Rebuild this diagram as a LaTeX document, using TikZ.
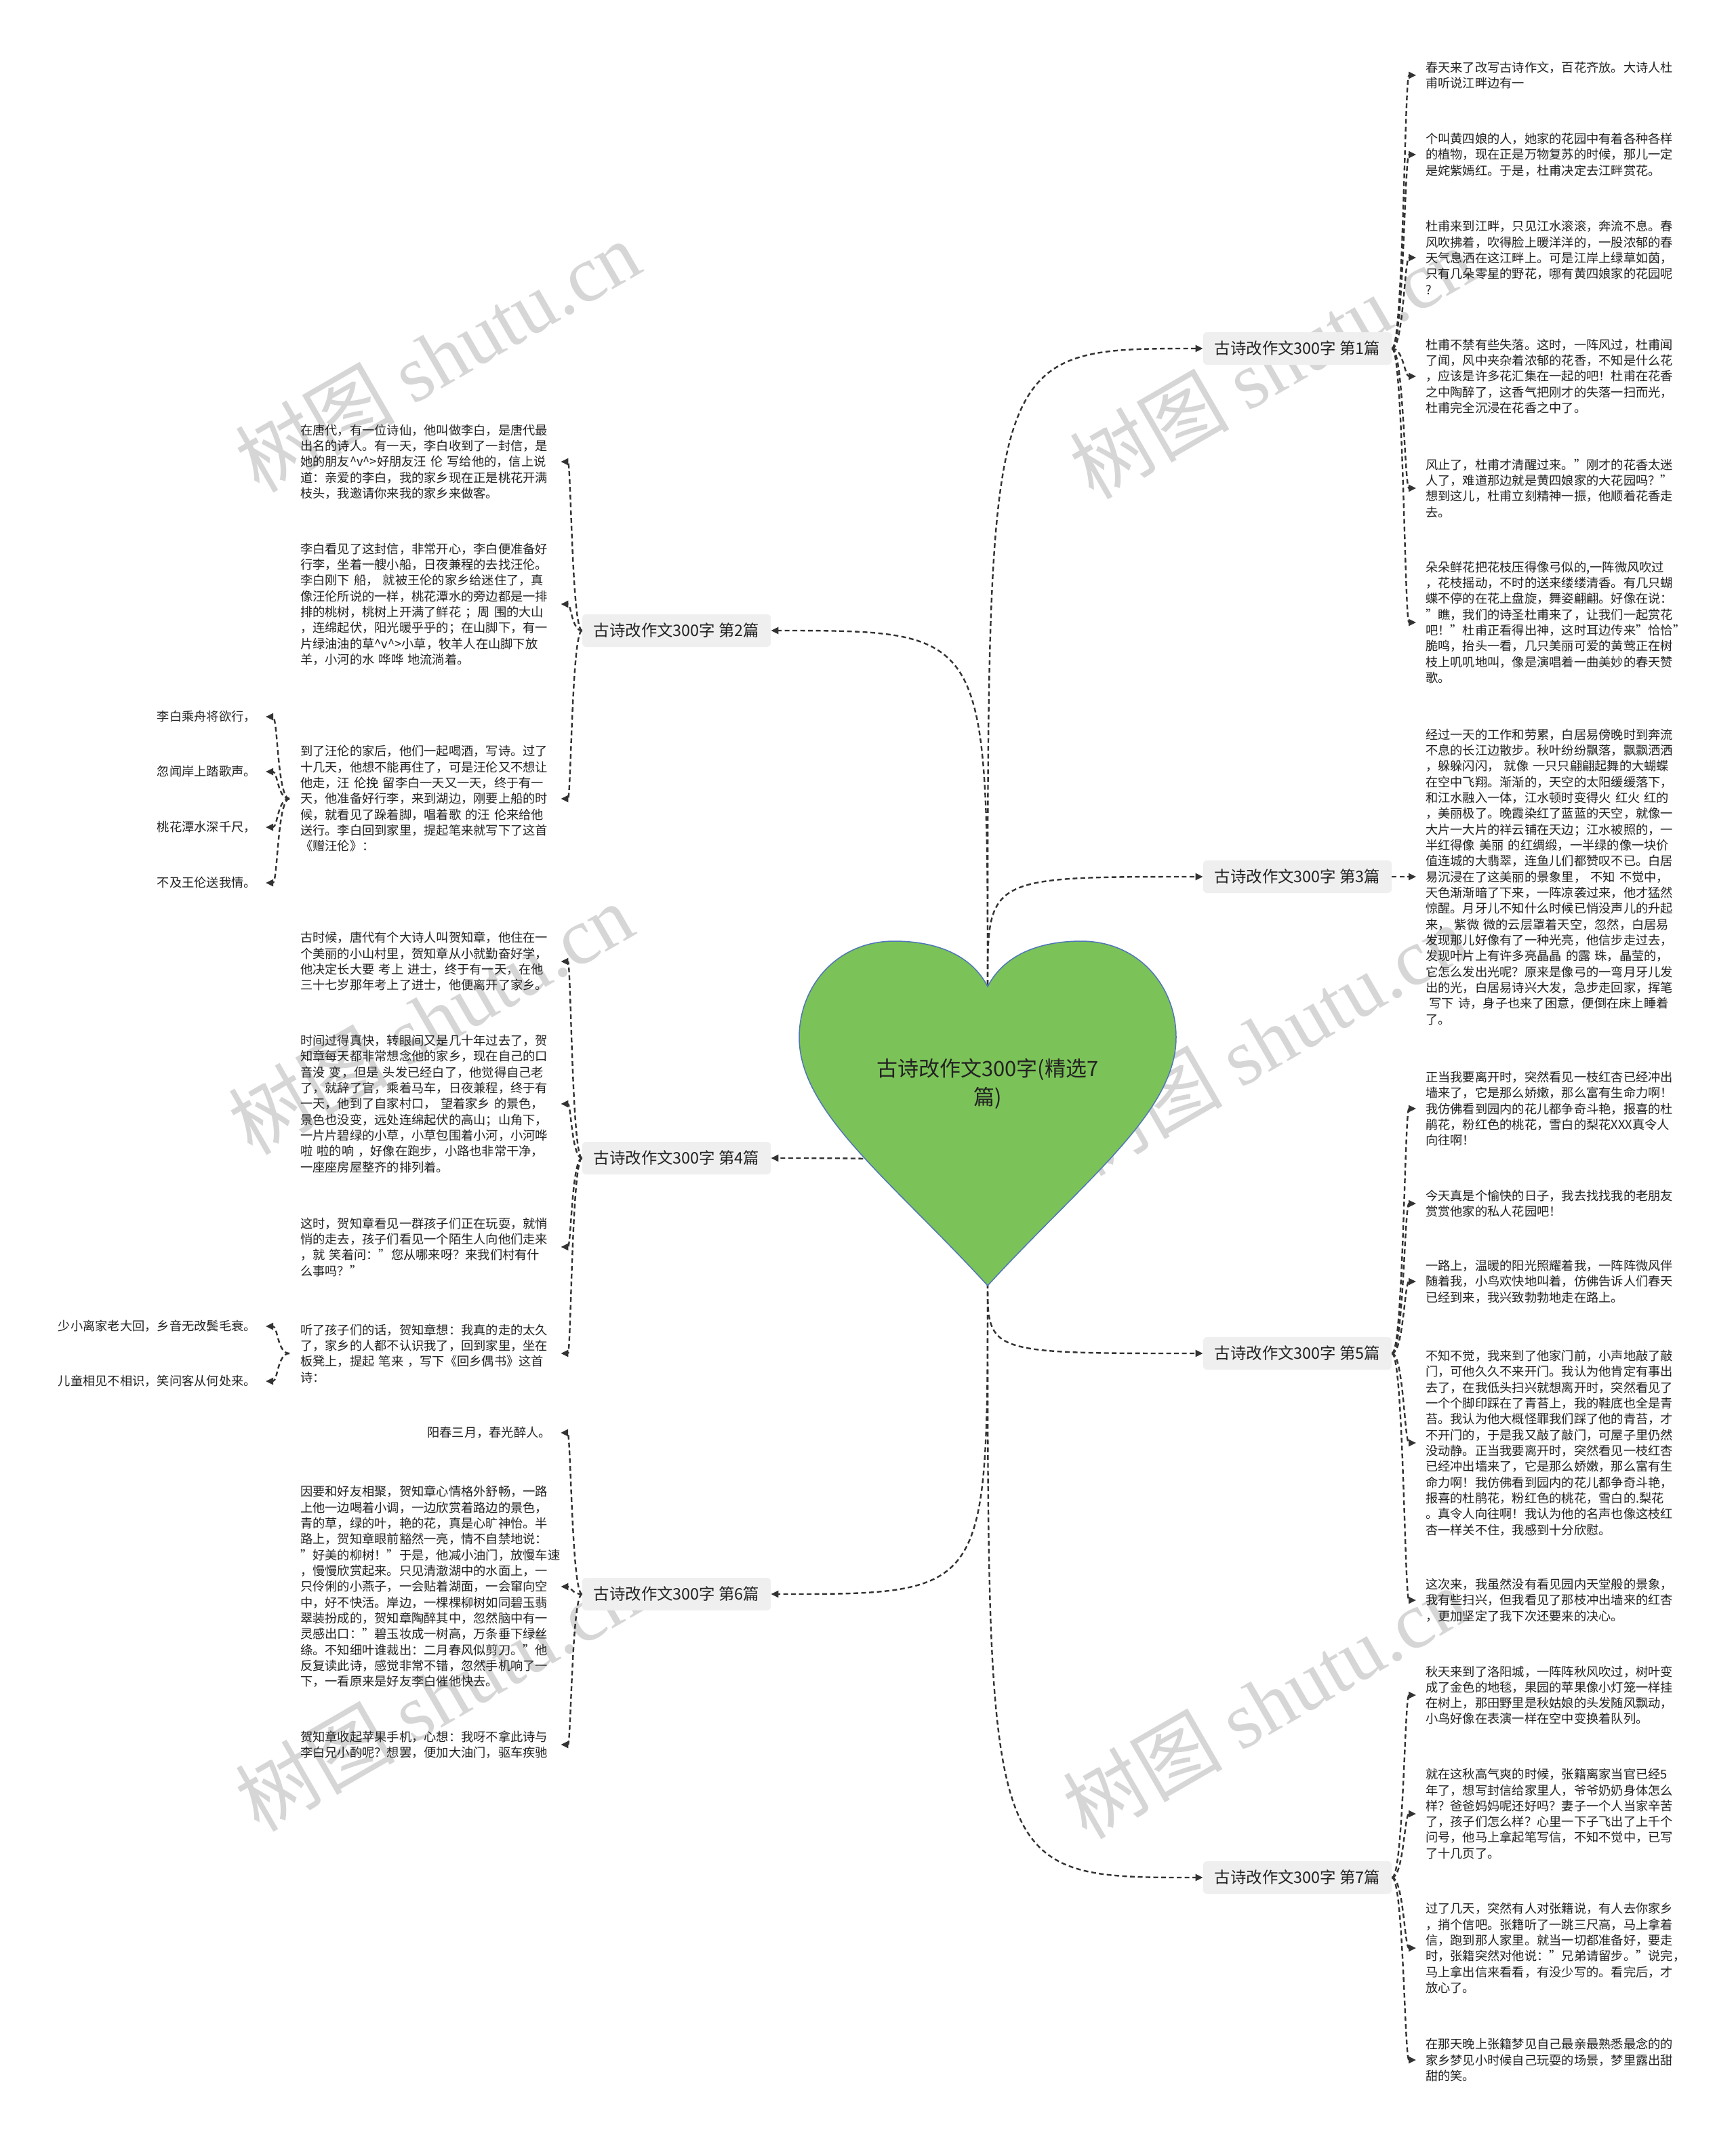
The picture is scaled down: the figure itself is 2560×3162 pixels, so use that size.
\documentclass[tikz,border=0pt]{standalone}
\usepackage{fontspec}
\setmainfont{Noto Sans CJK SC}
\newfontfamily\wmlatin{Liberation Serif}
\usetikzlibrary{arrows.meta}
\definecolor{lineclr}{HTML}{333333}
\definecolor{txtclr}{HTML}{222222}
\definecolor{labfill}{HTML}{EFEFEF}
\definecolor{heartfill}{HTML}{7BC258}
\definecolor{heartdraw}{HTML}{4F76B8}
\definecolor{wmclr}{HTML}{D6D6D6}
\newcommand{\ca}{\textasciicircum}
\begin{document}
\begin{tikzpicture}[x=1pt,y=-1pt,
 conn/.style={draw=lineclr, line width=2.4pt, dash pattern=on 7pt off 4.5pt, -{Triangle[length=11pt,width=10pt]}},
 branch/.style={fill=labfill, rounded corners=6pt, inner xsep=17pt, minimum height=48pt, text=txtclr, font=\fontsize{23.4}{28}\selectfont},
 leafR/.style={anchor=west, inner xsep=14pt, inner ysep=2pt, text width=368pt, align=left, text=txtclr, font=\fontsize{18.25}{23.33}\selectfont},
 leafL/.style={anchor=west, inner xsep=16pt, inner ysep=2pt, text width=368pt, align=left, text=txtclr, font=\fontsize{18.25}{23.33}\selectfont},
 poem/.style={anchor=east, inner xsep=14pt, inner ysep=2pt, text=txtclr, font=\fontsize{18.25}{23.33}\selectfont},
 wm/.style={rotate=30, text=wmclr, font=\fontsize{118}{120}\selectfont},
]
\useasboundingbox (0,0) rectangle (2560,3162);
\fill[white] (0,0) rectangle (2560,3162);

% watermarks
\node[wm] (wm1) at (645,525) {树图 {\wmlatin shutu.cn}};
\node[wm] (wm2) at (635,1502) {树图 {\wmlatin shutu.cn}};
\node[wm] (wm3) at (645,2500) {树图 {\wmlatin shutu.cn}};
\node[wm] (wm4) at (1876,535) {树图 {\wmlatin shutu.cn}};
\node[wm] (wm5) at (1866,1533) {树图 {\wmlatin shutu.cn}};
\node[wm] (wm6) at (1866,2511) {树图 {\wmlatin shutu.cn}};

% heart anchor points
\coordinate (htop) at (1457,1452);
\coordinate (hbot) at (1457,1893);

% branch labels
\node[branch] (b1) at (1914,514) {古诗改作文300字 第1篇};
\node[branch] (b2) at (998,930) {古诗改作文300字 第2篇};
\node[branch] (b3) at (1914,1293) {古诗改作文300字 第3篇};
\node[branch] (b4) at (998,1708) {古诗改作文300字 第4篇};
\node[branch] (b5) at (1914,1996) {古诗改作文300字 第5篇};
\node[branch] (b6) at (998,2351) {古诗改作文300字 第6篇};
\node[branch] (b7) at (1914,2769) {古诗改作文300字 第7篇};

% heart to branches
\draw[conn] (htop) .. controls (htop |- b1.west) .. (b1.west);
\draw[conn] (htop) .. controls (htop |- b2.east) .. (b2.east);
\draw[conn] (htop) .. controls (htop |- b3.west) .. (b3.west);
\draw[conn] (hbot) .. controls (hbot |- b4.east) .. (b4.east);
\draw[conn] (hbot) .. controls (hbot |- b5.west) .. (b5.west);
\draw[conn] (hbot) .. controls (hbot |- b6.east) .. (b6.east);
\draw[conn] (hbot) .. controls (hbot |- b7.west) .. (b7.west);

% heart
\filldraw[fill=heartfill, draw=heartdraw, line width=1.5pt]
 (1457,1455) .. controls (1480,1410) and (1530,1388) .. (1595,1388)
 .. controls (1680,1388) and (1735,1455) .. (1735,1530)
 .. controls (1735,1640) and (1600,1740) .. (1457,1896)
 .. controls (1314,1740) and (1179,1640) .. (1179,1530)
 .. controls (1179,1455) and (1234,1388) .. (1319,1388)
 .. controls (1384,1388) and (1434,1410) .. (1457,1455) -- cycle;
\node[font=\fontsize{31}{42}\selectfont, text=txtclr, align=center] (title) at (1457,1598) {古诗改作文300字(精选7\\篇)};

% right leaves, branch 1
\node[leafR] (r1a) at (2089,111) {春天来了改写古诗作文，百花齐放。大诗人杜\\甫听说江畔边有一};
\node[leafR] (r1b) at (2089,228) {个叫黄四娘的人，她家的花园中有着各种各样\\的植物，现在正是万物复苏的时候，那儿一定\\是姹紫嫣红。于是，杜甫决定去江畔赏花。};
\node[leafR] (r1c) at (2089,380) {杜甫来到江畔，只见江水滚滚，奔流不息。春\\风吹拂着，吹得脸上暖洋洋的，一股浓郁的春\\天气息洒在这江畔上。可是江岸上绿草如茵，\\只有几朵零星的野花，哪有黄四娘家的花园呢\\?};
\node[leafR] (r1d) at (2089,555) {杜甫不禁有些失落。这时，一阵风过，杜甫闻\\了闻，风中夹杂着浓郁的花香，不知是什么花\\，应该是许多花汇集在一起的吧！杜甫在花香\\之中陶醉了，这香气把刚才的失落一扫而光，\\杜甫完全沉浸在花香之中了。};
\node[leafR] (r1e) at (2089,720) {风止了，杜甫才清醒过来。"刚才的花香太迷\\人了，难道那边就是黄四娘家的大花园吗？"\\想到这儿，杜甫立刻精神一振，他顺着花香走\\去。};
\node[leafR] (r1f) at (2089,918) {朵朵鲜花把花枝压得像弓似的,一阵微风吹过\\，花枝摇动，不时的送来缕缕清香。有几只蝴\\蝶不停的在花上盘旋，舞姿翩翩。好像在说：\\"瞧，我们的诗圣杜甫来了，让我们一起赏花\\吧！"杜甫正看得出神，这时耳边传来"恰恰"\\脆鸣，抬头一看，几只美丽可爱的黄莺正在树\\枝上叽叽地叫，像是演唱着一曲美妙的春天赞\\歌。};

% branch 3
\node[leafR] (r3) at (2089,1293) {经过一天的工作和劳累，白居易傍晚时到奔流\\不息的长江边散步。秋叶纷纷飘落，飘飘洒洒\\，躲躲闪闪，~就像~一只只翩翩起舞的大蝴蝶\\在空中飞翔。渐渐的，天空的太阳缓缓落下，\\和江水融入一体，江水顿时变得火~红火~红的\\，美丽极了。晚霞染红了蓝蓝的天空，就像一\\大片一大片的祥云铺在天边；江水被照的，一\\半红得像~美丽~的红绸缎，一半绿的像一块价\\值连城的大翡翠，连鱼儿们都赞叹不已。白居\\易沉浸在了这美丽的景象里，~不知~不觉中，\\天色渐渐暗了下来，一阵凉袭过来，他才猛然\\惊醒。月牙儿不知什么时候已悄没声儿的升起\\来，~紫微~微的云层罩着天空，忽然，白居易\\发现那儿好像有了一种光亮，他信步走过去，\\发现叶片上有许多亮晶晶~的露~珠，晶莹的，\\它怎么发出光呢？原来是像弓的一弯月牙儿发\\出的光，白居易诗兴大发，急步走回家，挥笔\\\hspace*{0.3em}写下~诗，身子也来了困意，便倒在床上睡着\\了。};

% branch 5
\node[leafR] (r5a) at (2089,1635) {正当我要离开时，突然看见一枝红杏已经冲出\\墙来了，它是那么娇嫩，那么富有生命力啊！\\我仿佛看到园内的花儿都争奇斗艳，报喜的杜\\鹃花，粉红色的桃花，雪白的梨花XXX真令人\\向往啊！};
\node[leafR] (r5b) at (2089,1775) {今天真是个愉快的日子，我去找找我的老朋友\\赏赏他家的私人花园吧！};
\node[leafR] (r5c) at (2089,1890) {一路上，温暖的阳光照耀着我，一阵阵微风伴\\随着我，小鸟欢快地叫着，仿佛告诉人们春天\\已经到来，我兴致勃勃地走在路上。};
\node[leafR] (r5d) at (2089,2128) {不知不觉，我来到了他家门前，小声地敲了敲\\门，可他久久不来开门。我认为他肯定有事出\\去了，在我低头扫兴就想离开时，突然看见了\\一个个脚印踩在了青苔上，我的鞋底也全是青\\苔。我认为他大概怪罪我们踩了他的青苔，才\\不开门的，于是我又敲了敲门，可屋子里仍然\\没动静。正当我要离开时，突然看见一枝红杏\\已经冲出墙来了，它是那么娇嫩，那么富有生\\命力啊！我仿佛看到园内的花儿都争奇斗艳，\\报喜的杜鹃花，粉红色的桃花，雪白的.梨花\\。真令人向往啊！我认为他的名声也像这枝红\\杏一样关不住，我感到十分欣慰。};
\node[leafR] (r5e) at (2089,2360) {这次来，我虽然没有看见园内天堂般的景象，\\我有些扫兴，但我看见了那枝冲出墙来的红杏\\，更加坚定了我下次还要来的决心。};

% branch 7
\node[leafR] (r7a) at (2089,2500) {秋天来到了洛阳城，一阵阵秋风吹过，树叶变\\成了金色的地毯，果园的苹果像小灯笼一样挂\\在树上，那田野里是秋姑娘的头发随风飘动，\\小鸟好像在表演一样在空中变换着队列。};
\node[leafR] (r7b) at (2089,2675) {就在这秋高气爽的时候，张籍离家当官已经5\\年了，想写封信给家里人，爷爷奶奶身体怎么\\样？爸爸妈妈呢还好吗？妻子一个人当家辛苦\\了，孩子们怎么样？心里一下子飞出了上千个\\问号，他马上拿起笔写信，不知不觉中，已写\\了十几页了。};
\node[leafR] (r7c) at (2089,2873) {过了几天，突然有人对张籍说，有人去你家乡\\，捎个信吧。张籍听了一跳三尺高，马上拿着\\信，跑到那人家里。就当一切都准备好，要走\\时，张籍突然对他说："兄弟请留步。"说完，\\马上拿出信来看看，有没少写的。看完后，才\\放心了。};
\node[leafR] (r7d) at (2089,3038) {在那天晚上张籍梦见自己最亲最熟悉最念的的\\家乡梦见小时候自己玩耍的场景，梦里露出甜\\甜的笑。};

% left leaves, branch 2
\node[leafL] (l2a) at (427,681) {在唐代，有一位诗仙，他叫做李白，是唐代最\\出名的诗人。有一天，李白收到了一封信，是\\她的朋友\ca v\ca>好朋友汪~伦~写给他的，信上说\\道：亲爱的李白，我的家乡现在正是桃花开满\\枝头，我邀请你来我的家乡来做客。};
\node[leafL] (l2b) at (427,891) {李白看见了这封信，非常开心，李白便准备好\\行李，坐着一艘小船，日夜兼程的去找汪伦。\\李白刚下~船，~就被王伦的家乡给迷住了，真\\像汪伦所说的一样，桃花潭水的旁边都是一排\\排的桃树，桃树上开满了鲜花~；周~围的大山\\，连绵起伏，阳光暖乎乎的；在山脚下，有一\\片绿油油的草\ca v\ca>小草，牧羊人在山脚下放\\羊，小河的水~哗哗~地流淌着。};
\node[leafL] (l2c) at (427,1178) {到了汪伦的家后，他们一起喝酒，写诗。过了\\十几天，他想不能再住了，可是汪伦又不想让\\他走，汪~伦挽~留李白一天又一天，终于有一\\天，他准备好行李，来到湖边，刚要上船的时\\候，就看见了跺着脚，唱着歌~的汪~伦来给他\\送行。李白回到家里，提起笔来就写下了这首\\《赠汪伦》：};
\node[poem] (p1) at (392,1057) {李白乘舟将欲行，};
\node[poem] (p2) at (392,1138) {忽闻岸上踏歌声。};
\node[poem] (p3) at (392,1220) {桃花潭水深千尺，};
\node[poem] (p4) at (392,1302) {不及王伦送我情。};

% branch 4
\node[leafL] (l4a) at (427,1418) {古时候，唐代有个大诗人叫贺知章，他住在一\\个美丽的小山村里，贺知章从小就勤奋好学，\\他决定长大要~考上~进士，终于有一天，在他\\三十七岁那年考上了进士，他便离开了家乡。};
\node[leafL] (l4b) at (427,1628) {时间过得真快，转眼间又是几十年过去了，贺\\知章每天都非常想念他的家乡，现在自己的口\\音没~变，但是~头发已经白了，他觉得自己老\\了，就辞了官，乘着马车，日夜兼程，终于有\\一天，他到了自家村口，~望着家乡~的景色，\\景色也没变，远处连绵起伏的高山；山角下，\\一片片碧绿的小草，小草包围着小河，小河哗\\啦~啦的响~，好像在跑步，小路也非常干净，\\一座座房屋整齐的排列着。};
\node[leafL] (l4c) at (427,1839) {这时，贺知章看见一群孩子们正在玩耍，就悄\\悄的走去，孩子们看见一个陌生人向他们走来\\，就~笑着问："您从哪来呀？来我们村有什\\么事吗？"};
\node[leafL] (l4d) at (427,1996) {听了孩子们的话，贺知章想：我真的走的太久\\了，家乡的人都不认识我了，回到家里，坐在\\板凳上，提起~笔来~，写下《回乡偶书》这首\\诗：};
\node[poem] (p5) at (392,1956) {少小离家老大回，乡音无改鬓毛衰。};
\node[poem] (p6) at (392,2037) {儿童相见不相识，笑问客从何处来。};

% branch 6
\node[poem] (l6a) at (827,2113) {阳春三月，春光醉人。};
\node[leafL] (l6b) at (427,2340) {因要和好友相聚，贺知章心情格外舒畅，一路\\上他一边喝着小调，一边欣赏着路边的景色，\\青的草，绿的叶，艳的花，真是心旷神怡。半\\路上，贺知章眼前豁然一亮，情不自禁地说：\\"好美的柳树！"于是，他减小油门，放慢车速\\，慢慢欣赏起来。只见清澈湖中的水面上，一\\只伶俐的小燕子，一会贴着湖面，一会窜向空\\中，好不快活。岸边，一棵棵柳树如同碧玉翡\\翠装扮成的，贺知章陶醉其中，忽然脑中有一\\灵感出口："碧玉妆成一树高，万条垂下绿丝\\绦。不知细叶谁裁出：二月春风似剪刀。"他\\反复读此诗，感觉非常不错，忽然手机响了一\\下，一看原来是好友李白催他快去。};
\node[leafL] (l6c) at (427,2573) {贺知章收起苹果手机，心想：我呀不拿此诗与\\李白兄小酌呢？想罢，便加大油门，驱车疾驰};

% right leaf connectors
\foreach \n in {r1a,r1b,r1c,r1d,r1e,r1f}
  \draw[conn] (b1.east) .. controls +(17,0) and +(-17,0) .. (\n.west);
\draw[conn] (b3.east) .. controls +(17,0) and +(-17,0) .. (r3.west);
\foreach \n in {r5a,r5b,r5c,r5d,r5e}
  \draw[conn] (b5.east) .. controls +(17,0) and +(-17,0) .. (\n.west);
\foreach \n in {r7a,r7b,r7c,r7d}
  \draw[conn] (b7.east) .. controls +(17,0) and +(-17,0) .. (\n.west);

% left leaf connectors
\foreach \n in {l2a,l2b,l2c}
  \draw[conn] (b2.west) .. controls +(-15,0) and +(15,0) .. (\n.east);
\foreach \n in {p1,p2,p3,p4}
  \draw[conn] (l2c.west) .. controls +(-18,0) and +(18,0) .. (\n.east);
\foreach \n in {l4a,l4b,l4c,l4d}
  \draw[conn] (b4.west) .. controls +(-15,0) and +(15,0) .. (\n.east);
\foreach \n in {p5,p6}
  \draw[conn] (l4d.west) .. controls +(-18,0) and +(18,0) .. (\n.east);
\foreach \n in {l6a,l6b,l6c}
  \draw[conn] (b6.west) .. controls +(-15,0) and +(15,0) .. (\n.east);
\end{tikzpicture}
\end{document}
